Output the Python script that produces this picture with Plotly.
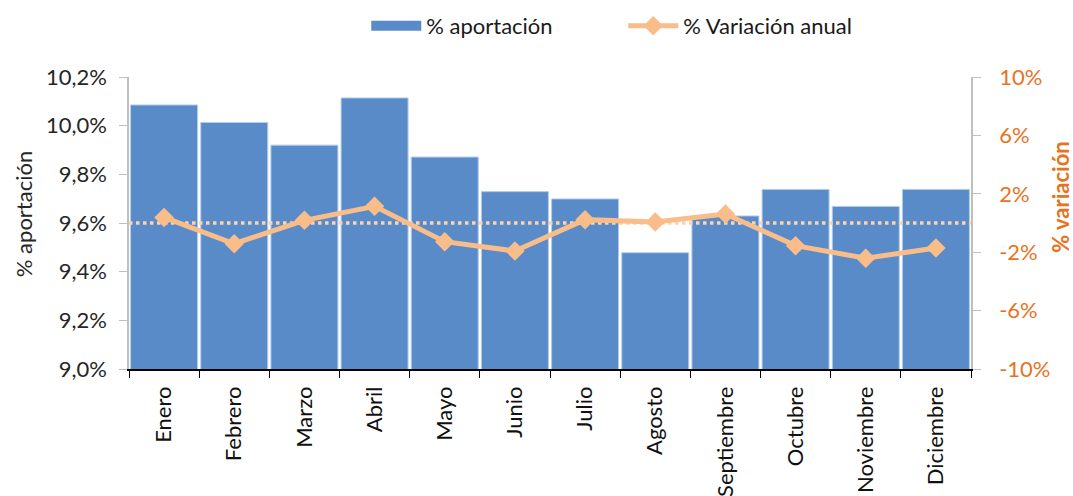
import plotly.graph_objects as go

months = ["Enero", "Febrero", "Marzo", "Abril", "Mayo", "Junio", "Julio",
          "Agosto", "Septiembre", "Octubre", "Noviembre", "Diciembre"]
aportacion = [10.085, 10.013, 9.920, 10.114, 9.871, 9.729, 9.699,
              9.478, 9.629, 9.738, 9.668, 9.738]
variacion = [0.38, -1.42, 0.18, 1.14, -1.28, -1.92, 0.23,
             0.07, 0.62, -1.55, -2.42, -1.71]
reference_level = [0, 0]
left_ticks = [9.0, 9.2, 9.4, 9.6, 9.8, 10.0, 10.2]
right_ticks = [-10, -6, -2, 2, 6, 10]

FONT = "Lato"
DARK = "#262626"
ORANGE = "#E8731E"
BAR = "#5A8BC9"
LINE = "#F9BD89"
DOT = "#FCD3B0"

idx = list(range(len(months)))
edges = [-0.5, len(months) - 0.5]

fig = go.Figure()
fig.add_trace(go.Bar(
    x=idx, y=aportacion, name="% aportación", width=0.955, showlegend=False,
    marker=dict(color=BAR, line=dict(color="#B4CCEB", width=1)),
    yaxis="y",
))
# legend-only entry drawn as a wide block, like the reference legend key
fig.add_trace(go.Scatter(
    x=[None], y=[None], name="% aportación", mode="lines",
    line=dict(color=BAR, width=14), yaxis="y", hoverinfo="skip",
))
fig.add_trace(go.Scatter(
    x=edges, y=reference_level, mode="lines", showlegend=False,
    line=dict(color=DOT, width=3.5, dash="dot"), yaxis="y2", hoverinfo="skip",
))
fig.add_trace(go.Scatter(
    x=idx, y=variacion, name="% Variación anual", mode="lines+markers",
    line=dict(color=LINE, width=5),
    marker=dict(symbol="diamond", size=15, color=LINE),
    yaxis="y2",
))

fig.update_layout(
    width=1073, height=496,
    margin=dict(l=129, r=102, t=77, b=127, autoexpand=False),
    paper_bgcolor="white", plot_bgcolor="white",
    font=dict(family=FONT, size=22, color=DARK),
    showlegend=True,
    legend=dict(orientation="h", x=0.587, xanchor="center", y=1.175, yanchor="middle",
                font=dict(size=22, color="#1a1a1a"), itemwidth=50,
                entrywidth=192, bgcolor="rgba(0,0,0,0)", traceorder="normal"),
    xaxis=dict(
        range=edges, tickmode="array", tickvals=idx, ticktext=months,
        tickangle=-90, ticks="", showgrid=False, zeroline=False,
        showline=True, linecolor="black", linewidth=1.5, automargin=False,
        tickfont=dict(family=FONT, size=22, color="#111111"),
        ticklabelstandoff=7,
        minor=dict(tickmode="linear", tick0=0.5, dtick=1, ticks="outside",
                   ticklen=7, tickcolor="black", tickwidth=1, showgrid=False),
    ),
    yaxis=dict(
        range=[9.0, 10.2], tickmode="array", tickvals=left_ticks,
        ticktext=[f"{v:.1f}%".replace(".", ",") for v in left_ticks],
        ticks="outside", ticklen=8, tickcolor="#BFBFBF", automargin=False,
        showline=True, linecolor="#BFBFBF", linewidth=1.5,
        showgrid=False, zeroline=False, ticklabelstandoff=8,
        tickfont=dict(family=FONT, size=22, color=DARK),
    ),
    yaxis2=dict(
        range=[-10, 10], overlaying="y", side="right", tickmode="array",
        tickvals=right_ticks, ticktext=[f"{v}%" for v in right_ticks],
        ticks="outside", ticklen=8, tickcolor="#BFBFBF", automargin=False,
        showline=True, linecolor="#BFBFBF", linewidth=1.5,
        showgrid=False, zeroline=False, ticklabelstandoff=14,
        tickfont=dict(family=FONT, size=22, color=ORANGE),
    ),
    annotations=[
        dict(text="% aportación", xref="paper", yref="paper",
             x=-0.126, y=0.53, textangle=-90, showarrow=False,
             xanchor="center", yanchor="middle",
             font=dict(family=FONT, size=22, color=DARK)),
        dict(text="<b>% variación</b>", xref="paper", yref="paper",
             x=1.107, y=0.59, textangle=-90, showarrow=False,
             xanchor="center", yanchor="middle",
             font=dict(family=FONT, size=22, color=ORANGE)),
    ],
)

fig.write_html(
    "out.html",
    config={"displayModeBar": False},
    post_script="document.body.style.margin='0';document.body.style.overflow='hidden';",
)
